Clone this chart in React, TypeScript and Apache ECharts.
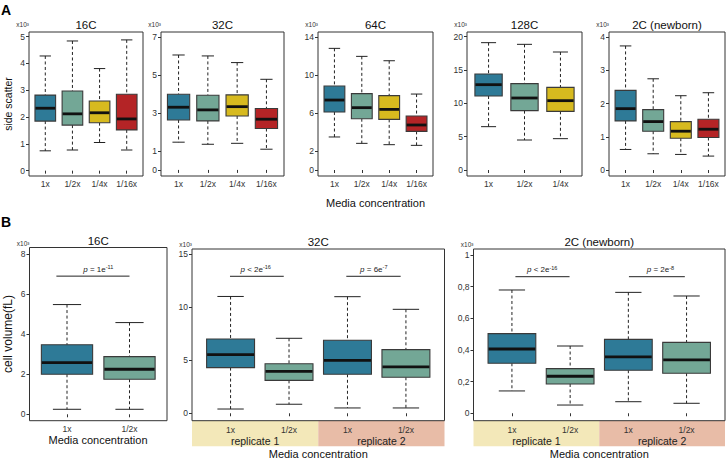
import React, { useEffect, useRef } from 'react';
import * as echarts from 'echarts';

const FONT = 'Liberation Sans, Arial, Helvetica, sans-serif';

// ---------- categories ----------
const CONC_4 = ['1x', '1/2x', '1/4x', '1/16x'];
const CONC_3 = ['1x', '1/2x', '1/4x'];
const CONC_2 = ['1x', '1/2x'];
const CONC_REP = ['1x', '1/2x', '1x', '1/2x'];
const REPLICATES = ['replicate 1', 'replicate 2'];

// ---------- panel A: side scatter (x10^3): [lower whisker, Q1, median, Q3, upper whisker] ----------
const SSC_16C = [
  [0.74, 1.85, 2.33, 2.82, 4.28],
  [0.77, 1.70, 2.12, 2.97, 4.84],
  [1.05, 1.79, 2.16, 2.60, 3.81],
  [0.77, 1.52, 1.93, 2.85, 4.88],
];
const SSC_32C = [
  [1.46, 2.63, 3.30, 3.98, 6.05],
  [1.35, 2.58, 3.16, 3.93, 6.00],
  [1.40, 2.84, 3.33, 3.95, 5.65],
  [1.09, 2.18, 2.67, 3.23, 4.77],
];
const SSC_64C = [
  [3.47, 6.09, 7.35, 8.82, 12.78],
  [2.80, 5.39, 6.55, 8.02, 11.94],
  [2.66, 5.32, 6.37, 7.81, 11.48],
  [2.59, 4.06, 4.73, 5.67, 7.98],
];
const SSC_128C = [
  [6.5, 11.1, 12.8, 14.4, 19.1],
  [4.5, 8.9, 10.8, 12.95, 18.85],
  [4.7, 8.8, 10.4, 12.4, 17.7],
];
const SSC_2C = [
  [0.62, 1.48, 1.85, 2.40, 3.74],
  [0.49, 1.17, 1.46, 1.82, 2.75],
  [0.47, 0.96, 1.17, 1.46, 2.24],
  [0.42, 0.98, 1.23, 1.53, 2.33],
];

// ---------- panel B: cell volume (fL, x10^3) ----------
const VOL_16C = [
  [0.25, 2.0, 2.58, 3.47, 5.48],
  [0.25, 1.75, 2.25, 2.88, 4.58],
];
const VOL_32C = [
  [0.4, 4.3, 5.52, 7.0, 11.0],
  [0.85, 3.1, 3.95, 4.67, 7.06],
  [0.5, 3.67, 4.99, 6.87, 10.98],
  [0.5, 3.39, 4.36, 5.99, 9.79],
];
const VOL_2C = [
  [0.141, 0.316, 0.406, 0.503, 0.779],
  [0.052, 0.185, 0.234, 0.282, 0.425],
  [0.073, 0.272, 0.356, 0.467, 0.764],
  [0.063, 0.253, 0.337, 0.448, 0.741],
];

// ---------- tick values ----------
const TICKS_SSC_16C = [0, 1, 2, 3, 4, 5];
const TICKS_SSC_32C = [0, 1, 3, 5, 7];
const TICKS_SSC_64C = [0, 2, 6, 10, 14];
const TICKS_SSC_128C = [0, 5, 10, 15, 20];
const TICKS_SSC_2C = [0, 1, 2, 3, 4];
const TICKS_VOL_16C = [0, 2, 4, 6, 8];
const TICKS_VOL_32C = [0, 5, 10, 15];
const TICKS_VOL_2C = [0, 0.2, 0.4, 0.6, 0.8, 1];

// ---------- significance brackets: [x start, x end, y, label x] and labels [op, mantissa, exponent] ----------
const BRK_16C = [[0.83, 2.0, 6.9, 1.5]];
const PVAL_16C = [['=', '1', '-11']];
const BRK_32C = [[0.99, 1.91, 12.9, 1.43], [2.98, 3.91, 12.9, 3.45]];
const PVAL_32C = [['<', '2', '-16'], ['=', '6', '-7']];
const BRK_2C = [[1.06, 1.99, 0.863, 1.52], [3.01, 3.97, 0.863, 3.55]];
const PVAL_2C = [['<', '2', '-16'], ['=', '2', '-8']];

// ---------- styles ----------
const FILL: Record<string, string> = {
  '1x': '#2E7A97',
  '1/2x': '#73A796',
  '1/4x': '#D7BA1F',
  '1/16x': '#B42426',
};
const BAND_COLORS = ['#F3E8B9', '#E8BCA7'];
const INK = '#222';
const AXIS_INK = '#333';

type Panel = {
  title: string;
  cats: string[];
  stats: number[][];
  ticks: number[];
  y: [number, number];
  x: [number, number];
  box: number;
  grid: { left: number; top: number; width: number; height: number };
  xMargin: number;
  nameGap: number;
  comma?: boolean;
  brackets?: number[][];
  pvals?: string[][];
  bands?: boolean;
};

const PANELS: Panel[] = [
  { title: '16C', cats: CONC_4, stats: SSC_16C, ticks: TICKS_SSC_16C, y: [-0.2, 5.175], x: [0.4, 4.6], box: 0.76,
    grid: { left: 29, top: 32, width: 114, height: 144 }, xMargin: 3, nameGap: 4 },
  { title: '32C', cats: CONC_4, stats: SSC_32C, ticks: TICKS_SSC_32C, y: [-0.32, 7.26], x: [0.4, 4.6], box: 0.76,
    grid: { left: 161, top: 32, width: 123, height: 144 }, xMargin: 3, nameGap: 4 },
  { title: '64C', cats: CONC_4, stats: SSC_64C, ticks: TICKS_SSC_64C, y: [-0.63, 14.5], x: [0.4, 4.6], box: 0.76,
    grid: { left: 318, top: 32, width: 115, height: 144 }, xMargin: 3, nameGap: 4 },
  { title: '128C', cats: CONC_3, stats: SSC_128C, ticks: TICKS_SSC_128C, y: [-0.9, 20.7], x: [0.4, 3.6], box: 0.76,
    grid: { left: 467, top: 32, width: 115, height: 144 }, xMargin: 3, nameGap: 4 },
  { title: '2C (newborn)', cats: CONC_4, stats: SSC_2C, ticks: TICKS_SSC_2C, y: [-0.18, 4.16], x: [0.4, 4.6], box: 0.76,
    grid: { left: 609, top: 32, width: 116, height: 144 }, xMargin: 3, nameGap: 4 },
  { title: '16C', cats: CONC_2, stats: VOL_16C, ticks: TICKS_VOL_16C, y: [-0.32, 8.33], x: [0.4, 2.6], box: 0.82,
    grid: { left: 29.5, top: 247.5, width: 137.5, height: 173.2 }, xMargin: 4, nameGap: 1,
    brackets: BRK_16C, pvals: PVAL_16C },
  { title: '32C', cats: CONC_REP, stats: VOL_32C, ticks: TICKS_VOL_32C, y: [-0.7, 15.47], x: [0.34, 4.66], box: 0.82,
    grid: { left: 192, top: 249, width: 252.5, height: 171.7 }, xMargin: 5, nameGap: 1,
    brackets: BRK_32C, pvals: PVAL_32C, bands: true },
  { title: '2C (newborn)', cats: CONC_REP, stats: VOL_2C, ticks: TICKS_VOL_2C, y: [-0.047, 1.038], x: [0.34, 4.66], box: 0.82,
    grid: { left: 473.5, top: 249, width: 251.5, height: 171.7 }, xMargin: 5, nameGap: 1, comma: true,
    brackets: BRK_2C, pvals: PVAL_2C, bands: true },
];

function boxRenderer(cats: string[], boxW: number) {
  return (params: any, api: any) => {
    const xv = api.value(0);
    const lo = api.coord([xv, api.value(1)]);
    const q1 = api.coord([xv, api.value(2)]);
    const md = api.coord([xv, api.value(3)]);
    const q3 = api.coord([xv, api.value(4)]);
    const hi = api.coord([xv, api.value(5)]);
    const cx = lo[0];
    const w = api.size([boxW, 0])[0];
    const cap = w * 0.55;
    const color = FILL[cats[Math.round(xv) - 1]];
    const dash = { stroke: INK, lineWidth: 1, lineDash: [3, 2.5] };
    const solid = { stroke: INK, lineWidth: 1 };
    return {
      type: 'group',
      children: [
        { type: 'line', shape: { x1: cx, y1: hi[1], x2: cx, y2: q3[1] }, style: dash },
        { type: 'line', shape: { x1: cx, y1: q1[1], x2: cx, y2: lo[1] }, style: dash },
        { type: 'line', shape: { x1: cx - cap / 2, y1: hi[1], x2: cx + cap / 2, y2: hi[1] }, style: solid },
        { type: 'line', shape: { x1: cx - cap / 2, y1: lo[1], x2: cx + cap / 2, y2: lo[1] }, style: solid },
        { type: 'rect', shape: { x: cx - w / 2, y: q3[1], width: w, height: q1[1] - q3[1] },
          style: { fill: color, stroke: '#3a3a3a', lineWidth: 1.1 } },
        { type: 'line', shape: { x1: cx - w / 2 + 0.5, y1: md[1], x2: cx + w / 2 - 0.5, y2: md[1] },
          style: { stroke: '#111', lineWidth: 2.8 } },
      ],
    };
  };
}

function bracketRenderer(pvals: string[][]) {
  return (params: any, api: any) => {
    const yv = api.value(2);
    const a = api.coord([api.value(0), yv]);
    const b = api.coord([api.value(1), yv]);
    const l = api.coord([api.value(3), yv]);
    const [op, m, e] = pvals[params.dataIndex];
    return {
      type: 'group',
      children: [
        { type: 'line', shape: { x1: a[0], y1: a[1], x2: b[0], y2: b[1] }, style: { stroke: INK, lineWidth: 1 } },
        {
          type: 'text', x: l[0], y: a[1] - 2,
          style: {
            text: `{i|p} ${op} ${m}e{s|${e}}`,
            align: 'center', verticalAlign: 'bottom',
            fontFamily: FONT, fontSize: 8, fill: INK, lineHeight: 10,
            rich: {
              i: { fontStyle: 'italic', fontFamily: FONT, fontSize: 8, fill: INK, lineHeight: 10 },
              s: { fontFamily: FONT, fontSize: 5.5, fill: INK, verticalAlign: 'top', lineHeight: 6 },
            },
          },
        },
      ],
    };
  };
}

function buildOption() {
  const grid: any[] = [];
  const xAxis: any[] = [];
  const yAxis: any[] = [];
  const series: any[] = [];
  const graphic: any[] = [];

  PANELS.forEach((p, i) => {
    const g = p.grid;
    grid.push({ ...g, show: true, borderColor: AXIS_INK, borderWidth: 1, backgroundColor: 'transparent' });
    const xs = p.cats.map((_, k) => k + 1);
    xAxis.push({
      type: 'value', gridIndex: i, min: p.x[0], max: p.x[1],
      axisLine: { show: false }, splitLine: { show: false },
      axisTick: { show: true, customValues: xs, length: 3, lineStyle: { color: AXIS_INK, width: 1 } },
      axisLabel: {
        customValues: xs, margin: p.xMargin, fontSize: 8.5, color: AXIS_INK, fontFamily: FONT,
        formatter: (v: number) => p.cats[Math.round(v) - 1] ?? '',
      },
    });
    yAxis.push({
      type: 'value', gridIndex: i, min: p.y[0], max: p.y[1],
      name: 'x10³', nameLocation: 'end', nameGap: p.nameGap,
      nameTextStyle: { fontSize: 6.5, color: AXIS_INK, fontFamily: FONT, align: 'right', verticalAlign: 'bottom' },
      axisLine: { show: false }, splitLine: { show: false },
      axisTick: { show: true, customValues: p.ticks, length: 3, lineStyle: { color: AXIS_INK, width: 1 } },
      axisLabel: {
        customValues: p.ticks, margin: 4, fontSize: 8.5, color: AXIS_INK, fontFamily: FONT,
        formatter: (v: number) => {
          const s = String(+v.toFixed(2));
          return p.comma ? s.replace('.', ',') : s;
        },
      },
    });
    series.push({
      type: 'custom', xAxisIndex: i, yAxisIndex: i, silent: true,
      data: p.stats.map((s, k) => [k + 1, ...s]),
      encode: { x: 0, y: [1, 2, 3, 4, 5] },
      renderItem: boxRenderer(p.cats, p.box),
    });
    if (p.brackets && p.pvals) {
      series.push({
        type: 'custom', xAxisIndex: i, yAxisIndex: i, silent: true,
        data: p.brackets,
        encode: { x: [0, 1, 3], y: 2 },
        renderItem: bracketRenderer(p.pvals),
      });
    }
    // panel title
    graphic.push({
      type: 'text', x: g.left + g.width / 2, y: g.top - 7,
      style: { text: p.title, fontFamily: FONT, fontSize: 11.5, fill: '#111', align: 'center', verticalAlign: 'middle' },
    });
    const bottom = g.top + g.height;
    if (p.bands) {
      const half = g.width / 2;
      REPLICATES.forEach((r, k) => {
        graphic.push({
          type: 'rect', z: -10,
          shape: { x: g.left + k * half, y: bottom, width: half, height: 25.5 },
          style: { fill: BAND_COLORS[k] },
        });
        graphic.push({
          type: 'text', x: g.left + k * half + half / 2, y: bottom + 20,
          style: { text: r, fontFamily: FONT, fontSize: 10.5, fill: '#222', align: 'center', verticalAlign: 'middle' },
        });
      });
      graphic.push({
        type: 'text', x: g.left + g.width / 2, y: 453.5,
        style: { text: 'Media concentration', fontFamily: FONT, fontSize: 11, fill: '#111', align: 'center', verticalAlign: 'middle' },
      });
    }
  });

  // shared labels
  graphic.push(
    { type: 'text', x: 1, y: 3, style: { text: 'A', fontFamily: FONT, fontSize: 14, fontWeight: 'bold', fill: '#000' } },
    { type: 'text', x: 1, y: 215, style: { text: 'B', fontFamily: FONT, fontSize: 14, fontWeight: 'bold', fill: '#000' } },
    { type: 'text', x: 8, y: 104, rotation: Math.PI / 2,
      style: { text: 'side scatter', fontFamily: FONT, fontSize: 10.5, fill: '#111', align: 'center', verticalAlign: 'middle' } },
    { type: 'text', x: 8, y: 334, rotation: Math.PI / 2,
      style: { text: 'cell volume(fL)', fontFamily: FONT, fontSize: 12, fill: '#111', align: 'center', verticalAlign: 'middle' } },
    { type: 'text', x: 375.5, y: 202.5,
      style: { text: 'Media concentration', fontFamily: FONT, fontSize: 11, fill: '#111', align: 'center', verticalAlign: 'middle' } },
    { type: 'text', x: 98, y: 440,
      style: { text: 'Media concentration', fontFamily: FONT, fontSize: 11, fill: '#111', align: 'center', verticalAlign: 'middle' } },
  );

  return {
    animation: false,
    backgroundColor: '#fff',
    textStyle: { fontFamily: FONT },
    grid, xAxis, yAxis, series, graphic,
  };
}

export default function App() {
  const ref = useRef<HTMLDivElement>(null);
  useEffect(() => {
    const chart = echarts.init(ref.current as HTMLDivElement, null, { renderer: 'svg' });
    chart.setOption(buildOption() as any);
    return () => chart.dispose();
  }, []);
  return (
    <div
      ref={ref}
      style={{ position: 'absolute', left: 0, top: 0, width: 727, height: 460, background: '#fff' }}
    />
  );
}
